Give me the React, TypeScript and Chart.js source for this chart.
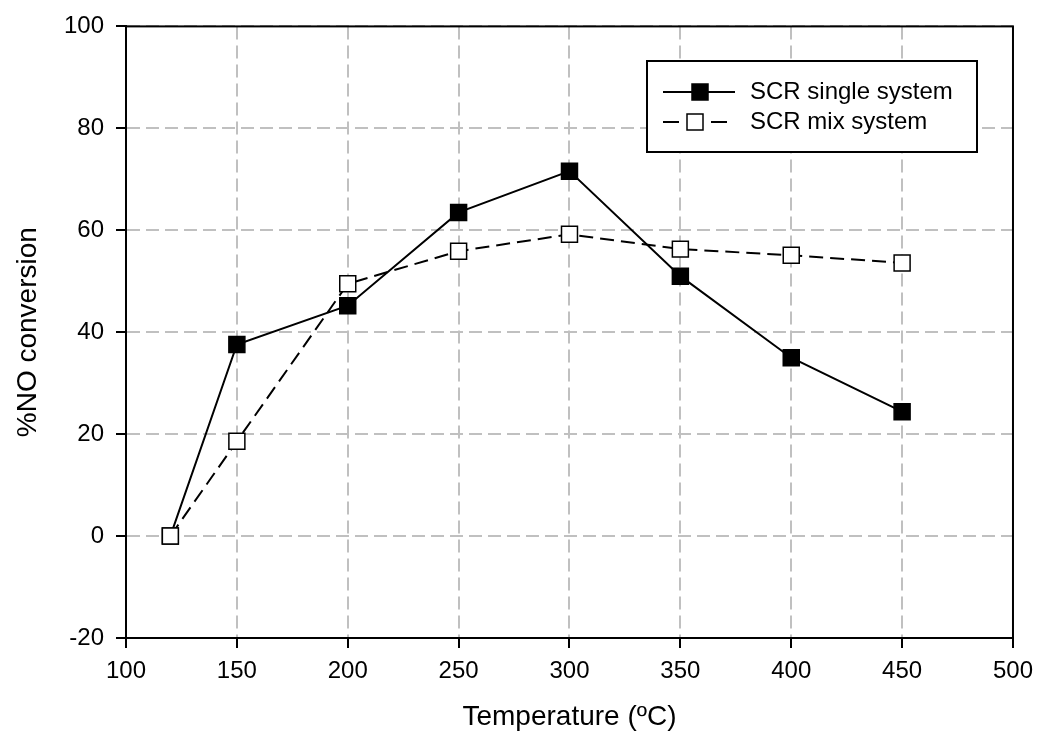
import React, { useEffect, useRef } from 'react';
import { Chart, registerables } from 'chart.js';

Chart.register(...registerables);

const temperatures = [120, 150, 200, 250, 300, 350, 400, 450];
const singleSystem = [0, 37.6, 45.2, 63.5, 71.6, 51.0, 35.0, 24.4];
const mixSystem = [0, 18.6, 49.5, 55.9, 59.2, 56.3, 55.1, 53.6];
const seriesLabels = ['SCR single system', 'SCR mix system'];
const xTitle = 'Temperature (ºC)';
const yTitle = '%NO conversion';
const xRange = [100, 500, 50];
const yRange = [-20, 100, 20];

const FONT = "'Liberation Sans', Arial, sans-serif";

const framePlugin = {
  id: 'frame',
  afterDatasetsDraw(chart: any) {
    const { ctx, chartArea } = chart;
    ctx.save();
    ctx.strokeStyle = '#000';
    ctx.lineWidth = 2;
    ctx.setLineDash([]);
    ctx.strokeRect(chartArea.left, chartArea.top, chartArea.right - chartArea.left, chartArea.bottom - chartArea.top);
    ctx.restore();
  },
};

const legendPlugin = {
  id: 'boxLegend',
  afterDraw(chart: any) {
    const ctx = chart.ctx;
    const bx = 647, by = 61, bw = 330, bh = 91;
    ctx.save();
    ctx.fillStyle = '#fff';
    ctx.fillRect(bx, by, bw, bh);
    ctx.strokeStyle = '#000';
    ctx.lineWidth = 2;
    ctx.setLineDash([]);
    ctx.strokeRect(bx, by, bw, bh);
    const rows = [
      { ds: chart.data.datasets[1], y: 92, x0: 663, x1: 735, mx: 700, dash: [] as number[] },
      { ds: chart.data.datasets[0], y: 122, x0: 663, x1: 727, mx: 695, dash: [16, 32] },
    ];
    rows.forEach((r) => {
      ctx.strokeStyle = '#000';
      ctx.lineWidth = 2;
      ctx.setLineDash(r.dash);
      ctx.beginPath();
      ctx.moveTo(r.x0, r.y);
      ctx.lineTo(r.x1, r.y);
      ctx.stroke();
      ctx.setLineDash([]);
      ctx.fillStyle = r.ds.pointBackgroundColor;
      ctx.fillRect(r.mx - 8, r.y - 8, 16, 16);
      ctx.lineWidth = 1.5;
      ctx.strokeRect(r.mx - 8, r.y - 8, 16, 16);
      ctx.fillStyle = '#000';
      ctx.font = `24px ${FONT}`;
      ctx.textBaseline = 'middle';
      ctx.textAlign = 'left';
      ctx.fillText(r.ds.label, 750, r.y);
    });
    ctx.restore();
  },
};

export default function App() {
  const ref = useRef<HTMLCanvasElement | null>(null);

  useEffect(() => {
    document.body.style.margin = '0';
    if (!ref.current) return;
    const gridCommon = {
      color: '#c0c0c0',
      lineWidth: 2,
      tickColor: '#000',
      tickWidth: 2,
      tickLength: 10,
      tickBorderDash: [],
      drawTicks: true,
    };
    const chart = new Chart(ref.current, {
      type: 'line',
      data: {
        datasets: [
          {
            label: seriesLabels[1],
            data: temperatures.map((t, i) => ({ x: t, y: mixSystem[i] })),
            borderColor: '#000',
            borderWidth: 2,
            borderDash: [14, 7],
            pointStyle: 'rect',
            pointRadius: 11.3,
            pointBackgroundColor: '#fff',
            pointBorderColor: '#000',
            pointBorderWidth: 1.5,
            order: 0,
            tension: 0,
          },
          {
            label: seriesLabels[0],
            data: temperatures.map((t, i) => ({ x: t, y: singleSystem[i] })),
            borderColor: '#000',
            borderWidth: 2,
            pointStyle: 'rect',
            pointRadius: 11.3,
            pointBackgroundColor: '#000',
            pointBorderColor: '#000',
            pointBorderWidth: 1.5,
            order: 1,
            tension: 0,
          },
        ],
      },
      options: {
        animation: false,
        responsive: false,
        devicePixelRatio: 1,
        layout: { padding: { left: 0, top: 24, right: 27, bottom: 0 } },
        plugins: {
          legend: { display: false },
          tooltip: { enabled: false },
        },
        scales: {
          x: {
            type: 'linear',
            min: xRange[0],
            max: xRange[1],
            ticks: { stepSize: xRange[2], color: '#000', font: { family: FONT, size: 24 }, padding: 9, maxRotation: 0 },
            grid: gridCommon,
            border: { display: true, color: '#000', width: 2, dash: [13, 6] },
            title: { display: true, text: xTitle, color: '#000', font: { family: FONT, size: 28 }, padding: { top: 0, bottom: 6 } },
            afterFit: (s: any) => { s.height = 102; },
          },
          y: {
            type: 'linear',
            min: yRange[0],
            max: yRange[1],
            ticks: { stepSize: yRange[2], color: '#000', font: { family: FONT, size: 24 }, padding: 12 },
            grid: gridCommon,
            border: { display: true, color: '#000', width: 2, dash: [13, 6] },
            title: { display: true, text: yTitle, color: '#000', font: { family: FONT, size: 28 }, padding: { top: 11, bottom: 0 } },
            afterFit: (s: any) => { s.width = 126; },
          },
        },
      },
      plugins: [framePlugin, legendPlugin],
    });
    return () => chart.destroy();
  }, []);

  return (
    <div style={{ width: 1042, height: 740, background: '#fff' }}>
      <canvas ref={ref} width={1042} height={740} style={{ display: 'block' }} />
    </div>
  );
}
